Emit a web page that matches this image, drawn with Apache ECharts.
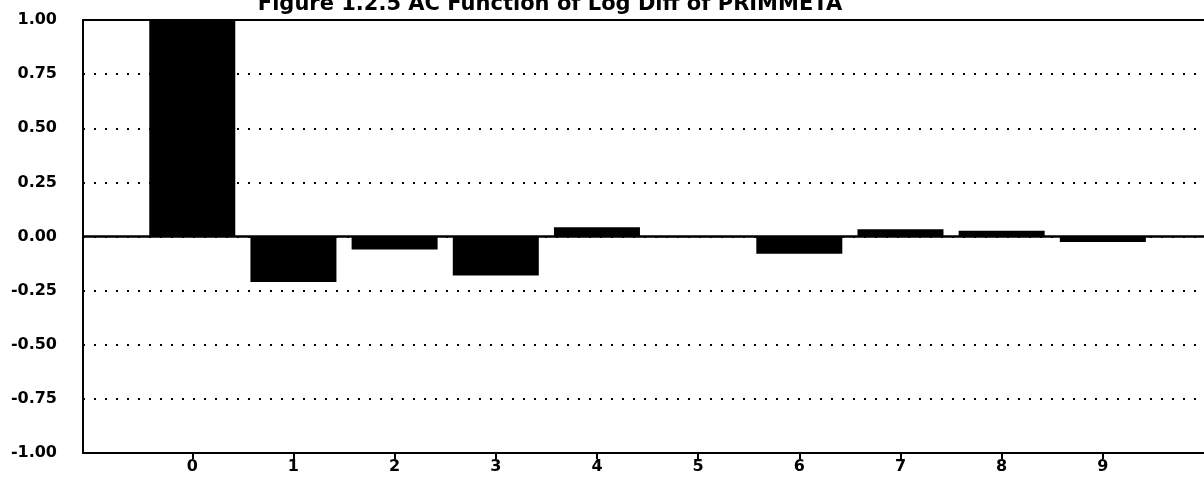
<!DOCTYPE html>
<html>
<head>
<meta charset="utf-8">
<script src="https://cdn.jsdelivr.net/npm/echarts@6/dist/echarts.min.js"></script>
<style>
html,body{margin:0;padding:0;background:#fff;}
#chart{width:1204px;height:489px;}
</style>
</head>
<body>
<div id="chart"></div>
<script>
var titleText = 'Figure 1.2.5 AC Function of Log Diff of PRIMMETA';
var lags = [0, 1, 2, 3, 4, 5, 6, 7, 8, 9];
var acf = [1.00, -0.21, -0.06, -0.18, 0.043, -0.003, -0.08, 0.033, 0.027, -0.025];
var yTicks = [-1.00, -0.75, -0.50, -0.25, 0.00, 0.25, 0.50, 0.75, 1.00];

var FONT = 'DejaVu Sans';
var chart = echarts.init(document.getElementById('chart'), null, {renderer: 'canvas'});
var barData = lags.map(function (l, i) { return [l, acf[i]]; });

chart.setOption({
  animation: false,
  backgroundColor: '#ffffff',
  title: {
    text: titleText,
    left: 545,
    textAlign: 'center',
    top: -11,
    textStyle: {fontFamily: FONT, fontWeight: 'bold', fontSize: 21, color: '#000'}
  },
  grid: {left: 83, right: 0, top: 20, bottom: 36, containLabel: false},
  xAxis: [{
    type: 'value',
    min: -1.08,
    max: 10,
    position: 'bottom',
    axisLine: {show: true, onZero: false, lineStyle: {color: '#000', width: 2}},
    axisTick: {show: true, customValues: lags, length: 6, lineStyle: {color: '#000', width: 2}},
    axisLabel: {
      customValues: lags,
      fontFamily: FONT, fontWeight: 'bold', fontSize: 16, color: '#000', margin: 6,
      formatter: function (v) { return String(Math.round(v)); }
    },
    splitLine: {show: false}
  }, {
    type: 'value',
    min: -1.08,
    max: 10,
    position: 'top',
    axisLine: {show: true, onZero: false, lineStyle: {color: '#000', width: 2}},
    axisTick: {show: false},
    axisLabel: {show: false},
    splitLine: {show: false}
  }],
  yAxis: {
    type: 'value',
    min: -1,
    max: 1,
    interval: 0.25,
    axisLine: {show: true, onZero: false, lineStyle: {color: '#000', width: 2}},
    axisTick: {show: false},
    axisLabel: {
      fontFamily: FONT, fontWeight: 'bold', fontSize: 16, color: '#000', margin: 26,
      formatter: function (v) { return v.toFixed(2); }
    },
    splitLine: {show: true, lineStyle: {color: '#000', width: 2, type: [2, 9]}}
  },
  series: [{
    type: 'bar',
    xAxisIndex: 0,
    data: barData,
    barWidth: 86,
    itemStyle: {color: '#000'},
    markLine: {
      silent: true,
      symbol: 'none',
      label: {show: false},
      lineStyle: {color: '#000', width: 2.5, type: 'solid'},
      data: [{yAxis: 0}]
    }
  }]
});
</script>
</body>
</html>
